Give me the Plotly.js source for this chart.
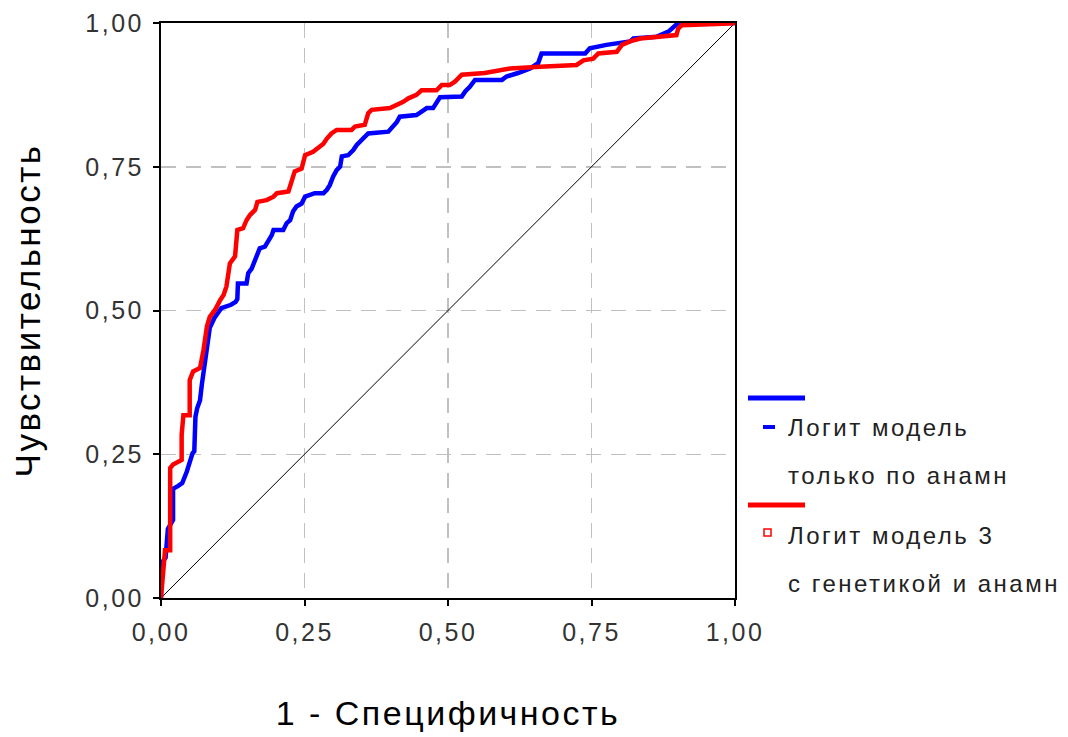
<!DOCTYPE html>
<html>
<head>
<meta charset="utf-8">
<script src="https://cdn.plot.ly/plotly-3.0.1.min.js"></script>
<style>
  html, body { margin: 0; padding: 0; background: #fff; }
  #chart { width: 1068px; height: 737px; }
  text { letter-spacing: 2.5px; }
</style>
</head>
<body>
<div id="chart"></div>
<script>
// Model 1: "Логит модель только по анамн" (1 - specificity, sensitivity)
const blueFpr = [0, 0, 0.008, 0.012, 0.021, 0.021, 0.03, 0.037, 0.045, 0.05, 0.055, 0.058, 0.06, 0.063, 0.068, 0.071, 0.073, 0.077, 0.08, 0.082, 0.085, 0.093, 0.099, 0.105, 0.122, 0.13, 0.133, 0.134, 0.149, 0.152, 0.158, 0.164, 0.167, 0.172, 0.181, 0.187, 0.193, 0.196, 0.213, 0.219, 0.225, 0.23, 0.236, 0.245, 0.251, 0.268, 0.283, 0.289, 0.294, 0.3, 0.306, 0.312, 0.315, 0.326, 0.335, 0.341, 0.352, 0.361, 0.396, 0.405, 0.411, 0.416, 0.445, 0.454, 0.463, 0.474, 0.48, 0.486, 0.524, 0.53, 0.538, 0.547, 0.594, 0.602, 0.622, 0.643, 0.657, 0.663, 0.739, 0.747, 0.776, 0.794, 0.817, 0.823, 0.863, 0.884, 0.895, 0.901, 1];
const blueTpr = [0, 0.06, 0.07, 0.12, 0.136, 0.19, 0.195, 0.2, 0.22, 0.24, 0.252, 0.255, 0.315, 0.33, 0.344, 0.37, 0.385, 0.41, 0.43, 0.45, 0.47, 0.487, 0.497, 0.504, 0.51, 0.515, 0.52, 0.547, 0.547, 0.565, 0.573, 0.588, 0.599, 0.608, 0.611, 0.62, 0.631, 0.64, 0.64, 0.652, 0.657, 0.672, 0.681, 0.686, 0.698, 0.704, 0.704, 0.71, 0.718, 0.733, 0.744, 0.75, 0.768, 0.77, 0.779, 0.788, 0.799, 0.808, 0.811, 0.82, 0.828, 0.837, 0.84, 0.846, 0.852, 0.852, 0.863, 0.871, 0.872, 0.881, 0.889, 0.901, 0.901, 0.907, 0.913, 0.921, 0.93, 0.947, 0.947, 0.956, 0.962, 0.965, 0.968, 0.973, 0.976, 0.985, 0.994, 1.0, 1];

// Model 3: "Логит модель 3 с генетикой и анамн"
const redFpr = [0, 0.004, 0.007, 0.016, 0.016, 0.021, 0.036, 0.036, 0.039, 0.05, 0.05, 0.056, 0.068, 0.074, 0.08, 0.085, 0.094, 0.103, 0.109, 0.114, 0.12, 0.129, 0.133, 0.143, 0.149, 0.155, 0.164, 0.168, 0.184, 0.196, 0.202, 0.222, 0.228, 0.233, 0.245, 0.251, 0.265, 0.277, 0.283, 0.289, 0.297, 0.306, 0.332, 0.338, 0.355, 0.361, 0.367, 0.399, 0.411, 0.422, 0.431, 0.445, 0.454, 0.48, 0.489, 0.503, 0.512, 0.524, 0.564, 0.608, 0.66, 0.724, 0.736, 0.753, 0.762, 0.794, 0.803, 0.817, 0.835, 0.861, 0.898, 0.901, 0.907, 0.991, 1];
const redTpr = [0, 0.049, 0.083, 0.083, 0.226, 0.232, 0.24, 0.284, 0.318, 0.318, 0.379, 0.394, 0.4, 0.431, 0.472, 0.489, 0.501, 0.518, 0.527, 0.542, 0.582, 0.594, 0.64, 0.643, 0.657, 0.666, 0.675, 0.689, 0.692, 0.698, 0.704, 0.707, 0.727, 0.742, 0.747, 0.77, 0.776, 0.785, 0.79, 0.799, 0.808, 0.814, 0.814, 0.82, 0.823, 0.843, 0.849, 0.852, 0.857, 0.863, 0.869, 0.875, 0.883, 0.883, 0.892, 0.892, 0.898, 0.91, 0.913, 0.921, 0.924, 0.927, 0.935, 0.938, 0.947, 0.95, 0.962, 0.968, 0.973, 0.976, 0.979, 0.99, 0.996, 0.999, 1];

// Reference diagonal
const diagX = [0, 1];
const diagY = [0, 1];

const tickVals = [0, 0.25, 0.5, 0.75, 1];
const tickText = ["0,00", "0,25", "0,50", "0,75", "1,00"];

const legendLabels = [["Логит модель", "только по анамн"], ["Логит модель 3", "с генетикой и анамн"]];

const font = "Liberation Sans, Arial, sans-serif";

const traces = [
  { x: diagX, y: diagY, mode: "lines", line: { color: "#000", width: 1 }, hoverinfo: "skip", showlegend: false },
  { x: blueFpr, y: blueTpr, mode: "lines", name: legendLabels[0].join(" "), line: { color: "#0000ff", width: 4.5 }, cliponaxis: false, showlegend: false },
  { x: redFpr, y: redTpr, mode: "lines", name: legendLabels[1].join(" "), line: { color: "#ff0000", width: 4.5 }, cliponaxis: false, showlegend: false }
];

// pixel -> paper helpers for legend placement
const L = 161, R = 735, T = 23, B = 598;
const px = v => (v - L) / (R - L);
const py = v => (B - v) / (B - T);

const axisCommon = {
  range: [0, 1],
  tickvals: tickVals,
  ticktext: tickText,
  showline: true,
  linecolor: "#000",
  linewidth: 2,
  mirror: true,
  ticks: "outside",
  ticklen: 6,
  tickwidth: 2,
  tickcolor: "#000",
  showgrid: true,
  gridcolor: "#c0c0c0",
  gridwidth: 1.5,
  griddash: "15px,10px",
  zeroline: false,
  tickfont: { family: font, size: 25, color: "#333" },
  fixedrange: true
};

const layout = {
  width: 1068,
  height: 737,
  margin: { l: L, r: 1068 - R, t: T, b: 737 - B },
  paper_bgcolor: "#fff",
  plot_bgcolor: "#fff",
  showlegend: false,
  xaxis: Object.assign({}, axisCommon, {
    title: { text: "1 - Специфичность", font: { family: font, size: 34, color: "#000" }, standoff: 56 },
    ticklabelstandoff: 5
  }),
  yaxis: Object.assign({}, axisCommon, {
    title: { text: "Чувствительность", font: { family: font, size: 35, color: "#000" }, standoff: 34 },
    ticklabelstandoff: 4
  }),
  shapes: [
    { type: "line", xref: "paper", yref: "paper", x0: px(748), x1: px(805), y0: py(398), y1: py(398), line: { color: "#0000ff", width: 5 } },
    { type: "line", xref: "paper", yref: "paper", x0: px(763), x1: px(775), y0: py(427), y1: py(427), line: { color: "#0000ff", width: 4 } },
    { type: "line", xref: "paper", yref: "paper", x0: px(748), x1: px(805), y0: py(505), y1: py(505), line: { color: "#ff0000", width: 5 } },
    { type: "rect", xref: "paper", yref: "paper", x0: px(764), x1: px(771), y0: py(529), y1: py(536), line: { color: "#ff0000", width: 1.5 }, fillcolor: "#fff" }
  ],
  annotations: [
    { xref: "paper", yref: "paper", x: px(786), y: py(427), xanchor: "left", yanchor: "middle", text: legendLabels[0][0], showarrow: false, font: { family: font, size: 24, color: "#222" } },
    { xref: "paper", yref: "paper", x: px(786), y: py(475), xanchor: "left", yanchor: "middle", text: legendLabels[0][1], showarrow: false, font: { family: font, size: 24, color: "#222" } },
    { xref: "paper", yref: "paper", x: px(786), y: py(535), xanchor: "left", yanchor: "middle", text: legendLabels[1][0], showarrow: false, font: { family: font, size: 24, color: "#222" } },
    { xref: "paper", yref: "paper", x: px(786), y: py(583), xanchor: "left", yanchor: "middle", text: legendLabels[1][1], showarrow: false, font: { family: font, size: 24, color: "#222" } }
  ]
};

Plotly.newPlot("chart", traces, layout, { displayModeBar: false, staticPlot: true });
</script>
</body>
</html>
